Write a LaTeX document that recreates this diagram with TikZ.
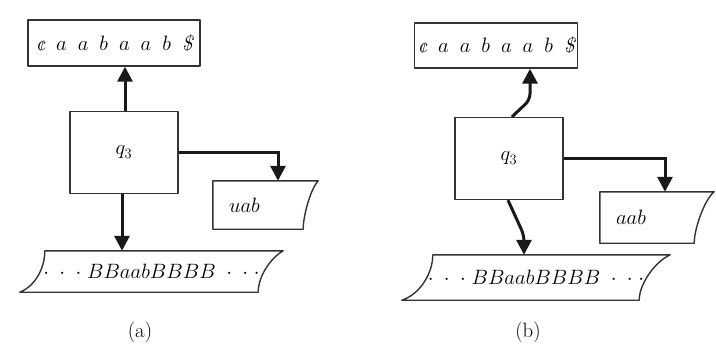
\documentclass[tikz,border=0pt]{standalone}
\usepackage{fontspec}
\usepackage{tikz}
\usetikzlibrary{arrows.meta,positioning}
\newcommand{\inputstring}{{\itshape ¢}\hspace{11pt}$a$\hspace{11pt}$a$\hspace{11pt}$b$\hspace{11pt}$a$\hspace{11pt}$a$\hspace{11pt}$b$\hspace{11pt}{\itshape\$}}
\newcommand{\workstring}{$\cdot\;\cdot\;\cdot\;BBaabBBBB\;\cdot\;\cdot\;\cdot$}
% work tape outline round node #1, the top edge shifted right by #2
\newcommand{\worktape}[2]{%
  \draw[outline] ([xshift=#2pt]#1.north west) -- (#1.north east)
    .. controls +(-0.5*#2,7) and +(0,-16) .. ([xshift=-#2pt]#1.south east)
    -- (#1.south west)
    .. controls +(0.6*#2,-6) and +(0,18) .. ([xshift=#2pt]#1.north west) -- cycle;}
% stack page outline round node #1, curled right edge of width #2
\newcommand{\stackpage}[2]{%
  \draw[outline] (#1.north west) -- (#1.north east)
    .. controls +(-0.5*#2,8) and +(0,-14) .. ([xshift=-#2pt]#1.south east)
    -- (#1.south west) -- cycle;}
\tikzset{
  outline/.style={draw=black!80,line width=1.4pt,line join=round},
  flow/.style={-{Triangle[length=15pt,width=15pt]},draw=black!90,line width=3pt},
  tape/.style={outline,inner sep=0pt,font=\huge},
  head/.style={outline,minimum width=108,minimum height=82,font=\huge},
  page/.style={inner xsep=16pt,align=left,font=\huge},
  ribbon/.style={inner sep=0pt,font=\huge},
  lab/.style={font=\huge},
}
\begin{document}
\begin{tikzpicture}[x=1pt,y=-1pt]
  \path[use as bounding box] (0,0) rectangle (716,351);

  % (a)
  \node[tape,minimum width=172,minimum height=46] (inA) at (114,43) {\inputstring};
  \node[head] (qA) at (124,152.5) {$q_3$};
  \node[page,minimum width=105,minimum height=48,text width=73pt] (stA) at (265.5,205) {$uab$};
  \stackpage{stA}{15}
  \node[ribbon,minimum width=263,minimum height=41] (wtA) at (151.5,271.5) {\workstring};
  \worktape{wtA}{25}
  \draw[flow] ([xshift=1pt]qA.north) -- ([xshift=1pt]qA.north |- inA.south);
  \draw[flow] (qA.east) -| ([xshift=12.5pt]stA.north);
  \draw[flow] ([xshift=-2pt]qA.south) -- ([xshift=-2pt]qA.south |- wtA.north);
  \node[lab] (capA) at (140,332) {(a)};

  % (b)
  \node[tape,minimum width=163,minimum height=45] (inB) at (496,45.5) {\inputstring};
  \node[head] (qB) at (509,158.5) {$q_3$};
  \node[page,minimum width=114,minimum height=51,text width=82pt] (stB) at (657,217.5) {$aab$};
  \stackpage{stB}{20}
  \node[ribbon,minimum width=268,minimum height=45] (wtB) at (536,277.5) {\workstring};
  \worktape{wtB}{31}
  \draw[flow,rounded corners=6pt] ([xshift=3pt]qB.north) -- ++(18,-17) coordinate (bendB)
    -- (bendB |- inB.south);
  \draw[flow] (qB.east) -| ([xshift=8pt]stB.north);
  \draw[flow,rounded corners=6pt] ([xshift=-1pt]qB.south) -- ++(16,35) coordinate (bendC)
    -- (bendC |- wtB.north);
  \node[lab] (capB) at (528,332) {(b)};
\end{tikzpicture}
\end{document}
